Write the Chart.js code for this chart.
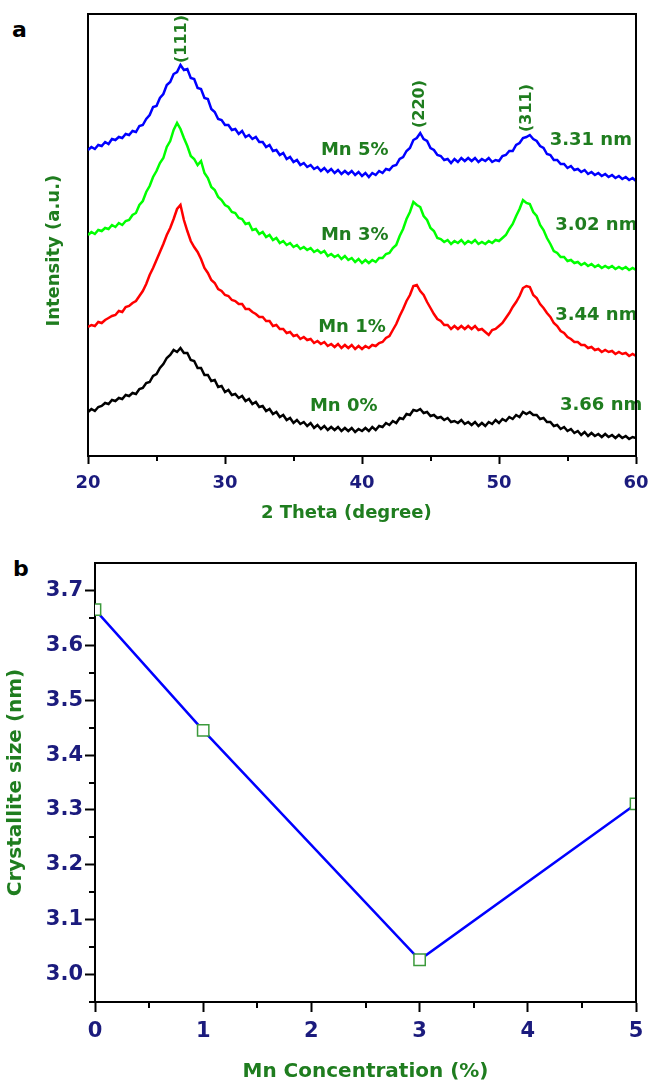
<!DOCTYPE html>
<html><head><meta charset="utf-8">
<script src="https://cdn.jsdelivr.net/npm/chart.js@4"></script>
<style>
html,body{margin:0;padding:0;background:#fff;width:649px;height:1084px;overflow:hidden;font-family:'DejaVu Sans',sans-serif;}
#ca{position:absolute;left:0;top:0;}
#cb{position:absolute;left:0;top:535px;}
.panel{position:absolute;font-weight:bold;font-size:22px;color:#000;line-height:1;font-family:'DejaVu Sans',sans-serif;}
</style></head><body>
<div class="panel" style="left:12px;top:19px">a</div>
<div class="panel" style="left:13px;top:558px">b</div>
<canvas id="ca" width="649" height="530"></canvas>
<canvas id="cb" width="649" height="549"></canvas>
<script>
// ---------- Panel a: XRD patterns (intensity offset-stacked, a.u.) ----------
const thetas = [20,20.25,20.5,20.75,21,21.25,21.5,21.75,22,22.25,22.5,22.75,23,23.25,23.5,23.75,24,24.25,24.5,24.75,25,25.25,25.5,25.75,26,26.25,26.5,26.75,27,27.25,27.5,27.75,28,28.25,28.5,28.75,29,29.25,29.5,29.75,30,30.25,30.5,30.75,31,31.25,31.5,31.75,32,32.25,32.5,32.75,33,33.25,33.5,33.75,34,34.25,34.5,34.75,35,35.25,35.5,35.75,36,36.25,36.5,36.75,37,37.25,37.5,37.75,38,38.25,38.5,38.75,39,39.25,39.5,39.75,40,40.25,40.5,40.75,41,41.25,41.5,41.75,42,42.25,42.5,42.75,43,43.25,43.5,43.75,44,44.25,44.5,44.75,45,45.25,45.5,45.75,46,46.25,46.5,46.75,47,47.25,47.5,47.75,48,48.25,48.5,48.75,49,49.25,49.5,49.75,50,50.25,50.5,50.75,51,51.25,51.5,51.75,52,52.25,52.5,52.75,53,53.25,53.5,53.75,54,54.25,54.5,54.75,55,55.25,55.5,55.75,56,56.25,56.5,56.75,57,57.25,57.5,57.75,58,58.25,58.5,58.75,59,59.25,59.5,59.75,60];

const intensityMn5 = [306,309,307,311, 310,314,312,317, 316,319,318,322, 321,325,324,330, 331,337,341,349, 350,358,362,371, 374,382,384,391, 386,387,378,377, 368,367,358,357, 347,344,337,336, 331,331,326,327, 322,325,319,321, 317,319,314,314, 309,311,305,306, 301,303,297,299, 294,296,291,293, 289,291,287,289, 285,288,284,287, 283,286,282,285, 282,285,281,284, 280,283,279,283, 281,285,283,287, 286,290,291,297, 299,305,308,316, 318,323,317,315, 308,306,301,300, 296,297,293,297, 294,298,295,298, 295,298,294,297, 295,298,294,296, 295,300,301,305, 305,311,313,318, 319,321,317,315, 310,308,302,301, 296,296,292,292, 288,290,286,287, 284,286,282,284, 281,283,280,282, 279,281,278,280, 277,279,276,278, 275];

const intensityMn3 = [221,224,222,226, 225,228,227,231, 229,233,231,235, 236,241,243,251, 255,264,270,279, 285,293,298,309, 315,326,333,327, 318,310,300,297, 291,295,283,278, 269,266,259,256, 251,249,244,243, 238,237,232,233, 226,227,222,224, 219,221,216,218, 213,215,211,213, 209,211,207,209, 206,208,204,206, 203,205,200,202, 199,201,197,200, 196,198,194,197, 193,196,193,196, 194,198,198,202, 203,208,211,220, 227,237,244,254, 251,249,240,236, 228,225,218,217, 214,216,212,215, 213,216,212,215, 213,216,212,214, 212,215,213,216, 215,218,221,227, 232,240,247,256, 253,252,244,240, 231,226,218,212, 205,203,199,199, 195,196,193,194, 191,193,190,192, 189,191,188,190, 188,190,187,189, 187,189,186,188, 186];

const intensityMn1 = [129,131,130,134, 133,136,138,140, 141,145,144,149, 150,153,155,160, 165,172,181,188, 196,204,212,221, 228,237,247,251, 236,225,215,209, 204,197,188,183, 176,173,167,165, 161,160,156,155, 152,152,147,147, 144,142,139,139, 135,135,130,131, 127,127,123,124, 120,121,117,119, 116,117,113,115, 112,114,110,112, 109,112,108,111, 108,111,107,110, 107,110,108,111, 110,113,114,118, 120,126,132,140, 147,155,161,170, 171,165,161,154, 148,142,137,135, 131,131,127,130, 127,130,127,130, 127,130,126,127, 124,121,126,127, 130,133,138,143, 149,154,160,168, 170,169,161,158, 152,148,143,139, 133,130,125,123, 119,117,114,114, 111,111,108,109, 106,107,104,106, 104,105,102,104, 102,103,100,102, 100];

const intensityMn0 = [44,47,45,49, 50,53,52,56, 55,58,57,61, 60,63,62,67, 68,73,74,80, 82,88,92,98, 101,106,104,108, 103,103,96,95, 88,88,81,81, 75,76,69,70, 64,66,61,62, 58,60,55,57, 52,54,49,50, 45,47,42,44, 39,41,36,38, 33,36,32,34, 30,33,28,31, 27,30,26,29, 26,29,25,28, 25,28,24,27, 25,28,25,29, 26,30,29,33, 31,35,33,38, 37,42,41,46, 45,47,43,44, 40,41,38,39, 36,38,34,35, 33,36,32,34, 31,34,30,33, 30,34,32,36, 33,37,35,39, 37,41,39,44, 42,44,41,41, 37,38,34,34, 30,31,27,29, 25,27,23,25, 21,24,20,23, 20,22,19,22, 19,21,18,21, 18,20,17,19, 18];

const thetaTicks = [20, 30, 40, 50, 60];
const thetaMinorTicks = [25, 35, 45, 55];
const sampleLabels = ['Mn 5%', 'Mn 3%', 'Mn 1%', 'Mn 0%'];
const sizeLabels = ['3.31 nm', '3.02 nm', '3.44 nm', '3.66 nm'];
const planeLabels = ['(111)', '(220)', '(311)'];

// ---------- Panel b: crystallite size ----------
const mnConcentration = [0, 1, 3, 5];
const crystalliteSize = [3.665, 3.445, 3.027, 3.311];
const concTicks = [0, 1, 2, 3, 4, 5];
const concMinorTicks = [0.5, 1.5, 2.5, 3.5, 4.5];
const sizeTicks = [3.0, 3.1, 3.2, 3.3, 3.4, 3.5, 3.6, 3.7];
const sizeMinorTicks = [2.95, 3.05, 3.15, 3.25, 3.35, 3.45, 3.55, 3.65];

// ---------- styles / placement (kept apart from data) ----------
const GREEN = '#1f7d1f';
const NAVY = '#1b1b7d';
const FONT = "'DejaVu Sans', sans-serif";
Chart.defaults.font.family = FONT;
Chart.defaults.font.weight = 'bold';

const sampleLabelPos = [[37.0, 306], [37.0, 221], [36.8, 129], [36.2, 50]];
const sizeLabelPos = [[53.7, 316], [54.1, 231], [54.1, 141], [54.45, 51]];
const planeLabelPos = [[26.86, 417], [44.23, 352], [52.04, 348]];

const toPts = (xs, ys) => ys.map((v, i) => ({x: xs[i], y: v}));

const frameTicks = {
  id: 'frameTicks',
  afterDraw(chart, args, o) {
    const ctx = chart.ctx, ca = chart.chartArea;
    ctx.save();
    ctx.strokeStyle = '#000';
    ctx.lineWidth = 2;
    ctx.lineCap = 'square';
    ctx.beginPath();
    ctx.moveTo(ca.left, ca.top);
    ctx.lineTo(ca.right, ca.top);
    ctx.lineTo(ca.right, ca.bottom);
    ctx.stroke();
    ctx.lineCap = 'butt';
    (o.x || []).forEach(v => {
      const px = Math.round(chart.scales.x.getPixelForValue(v));
      ctx.beginPath(); ctx.moveTo(px, ca.bottom); ctx.lineTo(px, ca.bottom + o.len); ctx.stroke();
    });
    (o.y || []).forEach(v => {
      const py = Math.round(chart.scales.y.getPixelForValue(v));
      ctx.beginPath(); ctx.moveTo(ca.left, py); ctx.lineTo(ca.left - o.len, py); ctx.stroke();
    });
    ctx.restore();
  }
};

const xrdLabels = {
  id: 'xrdLabels',
  afterDatasetsDraw(chart) {
    const ctx = chart.ctx, sx = chart.scales.x, sy = chart.scales.y;
    ctx.save();
    ctx.fillStyle = GREEN;
    ctx.font = 'bold 18px ' + FONT;
    ctx.textBaseline = 'middle';
    ctx.textAlign = 'left';
    sampleLabels.forEach((t, i) => ctx.fillText(t, sx.getPixelForValue(sampleLabelPos[i][0]), sy.getPixelForValue(sampleLabelPos[i][1])));
    sizeLabels.forEach((t, i) => ctx.fillText(t, sx.getPixelForValue(sizeLabelPos[i][0]), sy.getPixelForValue(sizeLabelPos[i][1])));
    ctx.font = 'bold 16px ' + FONT;
    ctx.textAlign = 'center';
    planeLabels.forEach((t, i) => {
      ctx.save();
      ctx.translate(sx.getPixelForValue(planeLabelPos[i][0]), sy.getPixelForValue(planeLabelPos[i][1]));
      ctx.rotate(-Math.PI / 2);
      ctx.fillText(t, 0, 0);
      ctx.restore();
    });
    ctx.restore();
  }
};

new Chart(document.getElementById('ca'), {
  type: 'line',
  data: {
    datasets: [
      {data: toPts(thetas, intensityMn5), borderColor: '#0000ff'},
      {data: toPts(thetas, intensityMn3), borderColor: '#00ff00'},
      {data: toPts(thetas, intensityMn1), borderColor: '#ff0000'},
      {data: toPts(thetas, intensityMn0), borderColor: '#000000'}
    ].map(d => Object.assign(d, {borderWidth: 2.5, pointRadius: 0, tension: 0, fill: false}))
  },
  options: {
    responsive: false, animation: false, events: [],
    layout: {padding: {left: 0, top: 14, right: 13, bottom: 0}},
    plugins: {legend: {display: false}, tooltip: {enabled: false},
      frameTicks: {x: thetaMinorTicks, len: 5}},
    scales: {
      x: {type: 'linear', min: 20, max: 60,
        afterFit(s) { s.height = 74; s.paddingLeft = 0; s.paddingRight = 0; },
        afterBuildTicks(s) { s.ticks = thetaTicks.map(v => ({value: v})); },
        grid: {drawOnChartArea: false, drawTicks: true, tickLength: 8, tickWidth: 2, tickColor: '#000'},
        border: {display: true, color: '#000', width: 2},
        ticks: {color: NAVY, font: {size: 18, weight: 'bold'}, padding: 9, maxRotation: 0, autoSkip: false},
        title: {display: true, text: '2 Theta (degree)     ', color: GREEN, font: {size: 18, weight: 'bold'}, padding: {top: 0, bottom: 6}}
      },
      y: {type: 'linear', min: 0, max: 442,
        afterFit(s) { s.width = 88; s.paddingTop = 0; s.paddingBottom = 0; },
        grid: {drawOnChartArea: false, drawTicks: false},
        border: {display: true, color: '#000', width: 2},
        ticks: {display: false},
        title: {display: true, text: 'Intensity (a.u.)     ', color: GREEN, font: {size: 18, weight: 'bold'}, padding: {top: 44, bottom: 0}}
      }
    }
  },
  plugins: [xrdLabels, frameTicks]
});

new Chart(document.getElementById('cb'), {
  type: 'line',
  data: {
    datasets: [{
      data: toPts(mnConcentration, crystalliteSize),
      borderColor: '#0000ff', borderWidth: 2.5, tension: 0,
      pointStyle: 'rect', pointRadius: 8, pointBorderColor: '#3c9a3c', pointBorderWidth: 1.5,
      pointBackgroundColor: '#ffffff', clip: 0
    }]
  },
  options: {
    responsive: false, animation: false, events: [],
    layout: {padding: {left: 0, top: 28, right: 13, bottom: 0}},
    plugins: {legend: {display: false}, tooltip: {enabled: false},
      frameTicks: {x: concMinorTicks, y: sizeMinorTicks, len: 6}},
    scales: {
      x: {type: 'linear', min: 0, max: 5,
        afterFit(s) { s.height = 82; s.paddingLeft = 0; s.paddingRight = 0; },
        afterBuildTicks(s) { s.ticks = concTicks.map(v => ({value: v})); },
        grid: {drawOnChartArea: false, drawTicks: true, tickLength: 10, tickWidth: 2, tickColor: '#000'},
        border: {display: true, color: '#000', width: 2},
        ticks: {color: NAVY, font: {size: 21, weight: 'bold'}, padding: 7, maxRotation: 0, autoSkip: false},
        title: {display: true, text: 'Mn Concentration (%)', color: GREEN, font: {size: 20, weight: 'bold'}, padding: {top: 0, bottom: 0}}
      },
      y: {type: 'linear', min: 2.95, max: 3.75,
        afterFit(s) { s.width = 95; s.paddingTop = 0; s.paddingBottom = 0; },
        afterBuildTicks(s) { s.ticks = sizeTicks.map(v => ({value: v})); },
        grid: {drawOnChartArea: false, drawTicks: true, tickLength: 10, tickWidth: 2, tickColor: '#000'},
        border: {display: true, color: '#000', width: 2},
        ticks: {color: NAVY, font: {size: 21, weight: 'bold'}, padding: 2, autoSkip: false, callback: v => Number(v).toFixed(1)},
        title: {display: true, text: 'Crystallite size (nm)', color: GREEN, font: {size: 20, weight: 'bold'}, padding: {top: 4, bottom: 0}}
      }
    }
  },
  plugins: [frameTicks]
});
</script>
</body></html>
